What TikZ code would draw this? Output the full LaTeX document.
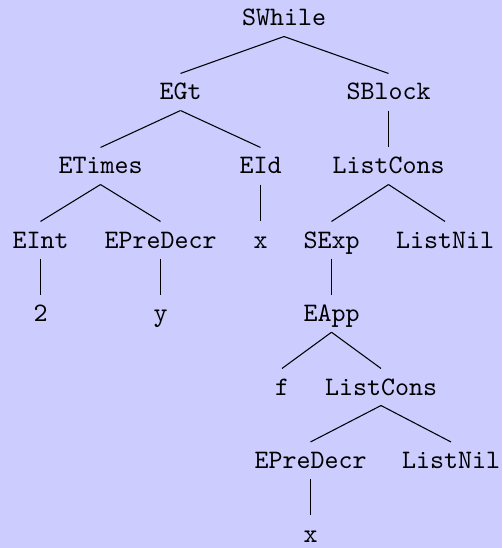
\documentclass[tikz,border=0pt]{standalone}
\definecolor{bgblue}{RGB}{204,204,255}
\begin{document}
\begin{tikzpicture}[x=0.375pt,y=-0.375pt,
  tn/.style={font=\ttfamily, anchor=base, inner sep=0pt,
             text height=9.75pt, text depth=3.75pt},
  edge/.style={line width=0.4pt}]
% background
\fill[bgblue] (0,0) rectangle (502,548);
\useasboundingbox (0,0) rectangle (502,548);
% nodes, level by level
\node[tn] (sw)   at (284,26)    {SWhile};
\node[tn] (egt)  at (180.5,100) {EGt};
\node[tn] (sbl)  at (388.5,100) {SBlock};
\node[tn] (eti)  at (100.5,174) {ETimes};
\node[tn] (eid)  at (260.5,174) {EId};
\node[tn] (lc1)  at (388.5,174) {ListCons};
\node[tn] (eint) at (40.5,248)  {EInt};
\node[tn] (epd1) at (160.5,248) {EPreDecr};
\node[tn] (x1)   at (260.5,248) {x};
\node[tn] (sexp) at (331.5,248) {SExp};
\node[tn] (ln1)  at (445,248)   {ListNil};
\node[tn] (two)  at (40.5,321.7) {2};
\node[tn] (yy)   at (160.5,321.7) {y};
\node[tn] (eapp) at (331.5,321.7) {EApp};
\node[tn] (ff)   at (282,395)   {f};
\node[tn] (lc2)  at (381,395)   {ListCons};
\node[tn] (epd2) at (310.5,468.5) {EPreDecr};
\node[tn] (ln2)  at (451,468.5) {ListNil};
\node[tn] (x2)   at (310.5,542) {x};
% edges
\foreach \p/\c in {sw/egt, sw/sbl, egt/eti, egt/eid, sbl/lc1,
                   eti/eint, eti/epd1, eid/x1, lc1/sexp, lc1/ln1,
                   eint/two, epd1/yy, sexp/eapp, eapp/ff, eapp/lc2,
                   lc2/epd2, lc2/ln2, epd2/x2}
  \draw[edge] (\p.south) -- (\c.north);
\end{tikzpicture}
\end{document}
